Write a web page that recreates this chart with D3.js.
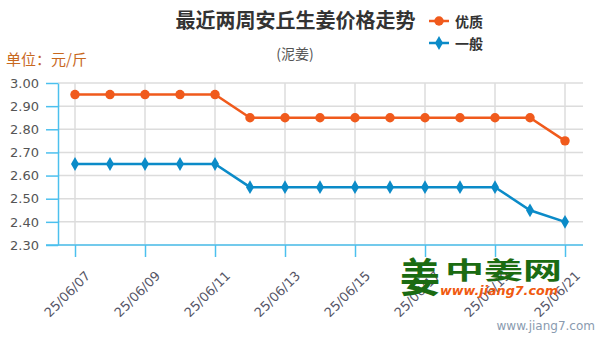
<!DOCTYPE html>
<html>
<head>
<meta charset="utf-8">
<script src="https://cdn.jsdelivr.net/npm/d3@7/dist/d3.min.js"></script>
<style>
  html, body { margin: 0; padding: 0; background: #fff; }
  svg { display: block; }
</style>
</head>
<body>
<svg id="chart" width="600" height="340"></svg>
<script>
// Daily dates over the last two weeks
const dates = ["25/06/07","25/06/08","25/06/09","25/06/10","25/06/11","25/06/12","25/06/13",
               "25/06/14","25/06/15","25/06/16","25/06/17","25/06/18","25/06/19","25/06/20","25/06/21"];
// Price series (元/斤)
const premium = [2.95,2.95,2.95,2.95,2.95,2.85,2.85,2.85,2.85,2.85,2.85,2.85,2.85,2.85,2.75];
const regular = [2.65,2.65,2.65,2.65,2.65,2.55,2.55,2.55,2.55,2.55,2.55,2.55,2.55,2.45,2.40];
const seriesNames = ["优质", "一般"];
const yTicks = [2.30,2.40,2.50,2.60,2.70,2.80,2.90,3.00];
const xTickDates = dates.filter((d, i) => i % 2 === 0);

const svg = d3.select("#chart");
const FONT = "'DejaVu Sans', Verdana, sans-serif";
const CJK = "'Noto Sans CJK SC', sans-serif";
const ORANGE = "#f05a1c";
const BLUE = "#0b8bc8";
const AXIS = "#4cc0ee";
const GRID = "#dcdcdc";

const x = d3.scalePoint().domain(dates).range([75, 565]);
const y = d3.scaleLinear().domain([2.30, 3.00]).range([245, 83]);
const left = 58, right = 583;

// Grid
const grid = svg.append("g");
grid.selectAll("line.h").data(yTicks).join("line")
  .attr("x1", left).attr("x2", right)
  .attr("y1", d => y(d)).attr("y2", d => y(d))
  .attr("stroke", GRID).attr("stroke-width", 1.5);
grid.selectAll("line.v").data(xTickDates).join("line")
  .attr("x1", d => x(d)).attr("x2", d => x(d))
  .attr("y1", y(3.0)).attr("y2", y(2.3))
  .attr("stroke", GRID).attr("stroke-width", 1.5);

// Y axis
const yAxis = svg.append("g").attr("transform", `translate(${left},0)`)
  .call(d3.axisLeft(y).tickValues(yTicks).tickFormat(d3.format(".2f"))
        .tickSize(12).tickSizeOuter(0).tickPadding(7));
yAxis.select(".domain").attr("stroke", AXIS).attr("stroke-width", 1.5);
yAxis.selectAll(".tick line").attr("stroke", AXIS).attr("stroke-width", 1.5);
yAxis.selectAll(".tick text").attr("fill", "#555").style("font", `13px ${FONT}`);

// X axis
const xAxis = svg.append("g").attr("transform", `translate(0,${y(2.3)})`)
  .call(d3.axisBottom(x).tickValues(xTickDates).tickSize(12).tickSizeOuter(0));
xAxis.select(".domain").attr("d", `M${left - 12},0H${right}`)
  .attr("stroke", AXIS).attr("stroke-width", 1.5);
xAxis.selectAll(".tick line").attr("stroke", AXIS).attr("stroke-width", 1.5);
xAxis.selectAll(".tick text")
  .attr("fill", "#556")
  .style("font", `13px ${FONT}`)
  .attr("text-anchor", "end")
  .attr("dy", 0)
  .attr("transform", "translate(5,21) rotate(-45)");

// Series
const series = [
  { name: seriesNames[0], values: premium, color: ORANGE, symbol: d3.symbolCircle, size: 70 },
  { name: seriesNames[1], values: regular, color: BLUE, symbol: d3.symbolDiamond, size: 55 }
];
const line = d3.line().x((d, i) => x(dates[i])).y(d => y(d));
series.forEach(s => {
  svg.append("path").datum(s.values).attr("d", line)
    .attr("fill", "none").attr("stroke", s.color).attr("stroke-width", 2.5);
  svg.append("g").selectAll("path").data(s.values).join("path")
    .attr("transform", (d, i) => `translate(${x(dates[i])},${y(d)})`)
    .attr("d", d3.symbol().type(s.symbol).size(s.size))
    .attr("fill", s.color);
});

// Title, subtitle, unit
svg.append("text").attr("x", 295.5).attr("y", 28).attr("text-anchor", "middle")
  .attr("fill", "#333").style("font", `bold 20px ${CJK}`).text("最近两周安丘生姜价格走势");
svg.append("text").attr("x", 295).attr("y", 59).attr("text-anchor", "middle")
  .attr("fill", "#555").style("font", `14px ${CJK}`).text("(泥姜)");
svg.append("text").attr("x", 6).attr("y", 65)
  .attr("fill", "#c8681e").style("font", `15px ${CJK}`).text("单位：元/斤");

// Legend
const legend = svg.append("g");
series.forEach((s, i) => {
  const ly = 21 + i * 22;
  legend.append("line").attr("x1", 429).attr("x2", 449).attr("y1", ly).attr("y2", ly)
    .attr("stroke", s.color).attr("stroke-width", 2.5);
  legend.append("path").attr("transform", `translate(439,${ly})`)
    .attr("d", d3.symbol().type(s.symbol).size(s.size)).attr("fill", s.color);
  legend.append("text").attr("x", 455).attr("y", ly + 5.5)
    .attr("fill", "#333").style("font", `bold 14px ${CJK}`).text(s.name);
});

// Site mark
const mark = svg.append("g");
mark.append("text").attr("x", 400).attr("y", 292)
  .attr("fill", "#1b6b12").style("font", `bold 40px ${CJK}`).text("姜");
mark.append("text").attr("x", 445).attr("y", 279)
  .attr("fill", "#1b6b12").style("font", `bold 24px ${CJK}`)
  .attr("textLength", 117).attr("lengthAdjust", "spacingAndGlyphs").text("中姜网");
mark.append("text").attr("x", 440).attr("y", 295)
  .attr("fill", "#f05a10").style("font", `italic bold 13px ${FONT}`)
  .attr("textLength", 118).attr("lengthAdjust", "spacingAndGlyphs").text("www.jiang7.com");
svg.append("text").attr("x", 595).attr("y", 330).attr("text-anchor", "end")
  .attr("fill", "#8a9bb0").style("font", `12px ${FONT}`).text("www.jiang7.com");
</script>
</body>
</html>
